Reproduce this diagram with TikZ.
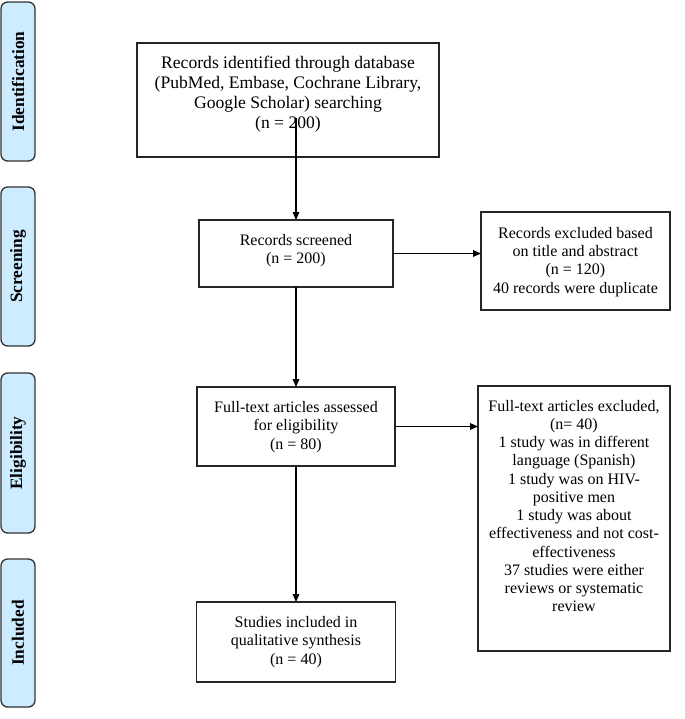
\documentclass[tikz,border=0pt]{standalone}
\usepackage{fontspec}
\setmainfont{Liberation Serif}
\usetikzlibrary{arrows.meta}
\definecolor{phasefill}{RGB}{205,236,255}
\begin{document}
\begin{tikzpicture}[x=0.75pt,y=-0.75pt,
  box/.style={draw=black!85, line width=1pt, inner sep=0pt, outer sep=0pt},
  txt/.style={align=center, inner sep=0pt, font=\fontsize{12}{13.7}\selectfont},
  txtbig/.style={align=center, inner sep=0pt, font=\fontsize{13.2}{15}\selectfont},
  phase/.style={draw=black!80, line width=1pt, fill=phasefill, rounded corners=5pt,
    inner sep=0pt, outer sep=0pt, minimum height={34*0.75pt}, rotate=90,
    font=\bfseries\fontsize{13}{15}\selectfont},
  arr/.style={-{Triangle[length=6pt,width=5pt]}, line width=0.8pt, draw=black}]
\useasboundingbox (0,0) rectangle (685,719);
\fill[white] (0,0) rectangle (685,719);

% phase bars
\node[phase, minimum width={159*0.75pt}] (ph1) at (18,81.5) {Identification};
\node[phase, minimum width={159*0.75pt}] (ph2) at (18,266.5) {Screening};
\node[phase, minimum width={160*0.75pt}] (ph3) at (18,453) {Eligibility};
\node[phase, minimum width={148*0.75pt}] (ph4) at (18,633) {Included};

% box frames
\node[box, minimum width={302*0.75pt}, minimum height={114*0.75pt}] (b1) at (288,100) {};
\node[box, minimum width={194*0.75pt}, minimum height={67*0.75pt}] (b2) at (296,253.5) {};
\node[box, minimum width={189*0.75pt}, minimum height={98*0.75pt}] (r1) at (575.5,261) {};
\node[box, minimum width={198*0.75pt}, minimum height={79*0.75pt}] (b3) at (296,426.5) {};
\node[box, minimum width={192*0.75pt}, minimum height={265*0.75pt}] (r2) at (574,518.5) {};
\node[box, minimum width={199*0.75pt}, minimum height={80*0.75pt}] (b4) at (296,642) {};

% texts
\node[txtbig] (b1t) at (288,94.5) {Records identified through database\\(PubMed, Embase, Cochrane Library,\\Google Scholar) searching\\(n = 200)};
\node[txt] (b2t) at (296,251) {Records screened\\(n = 200)};
\node[txt] (r1t) at (575.5,262) {Records excluded based\\on title and abstract\\(n = 120)\\40 records were duplicate};
\node[txt] (b3t) at (296,427) {Full-text articles assessed\\for eligibility\\(n = 80)};
\node[txt] (r2t) at (574,506) {Full-text articles excluded,\\(n= 40)\\1 study was in different\\language (Spanish)\\1 study was on HIV-\\positive men\\1 study was about\\effectiveness and not cost-\\effectiveness\\37 studies were either\\reviews or systematic\\review};
\node[txt] (b4t) at (296,642) {Studies included in\\qualitative synthesis\\(n = 40)};

% connectors
\coordinate (s1) at (296,118);
\draw[arr] (s1) -- (b2.north);
\draw[arr] (b2.south) -- (b3.north);
\draw[arr] (b3.south) -- (b4.north);
\draw[arr] (b2.east) -- (b2.east -| r1.west);
\draw[arr] (b3.east) -- (b3.east -| r2.west);
\end{tikzpicture}
\end{document}
